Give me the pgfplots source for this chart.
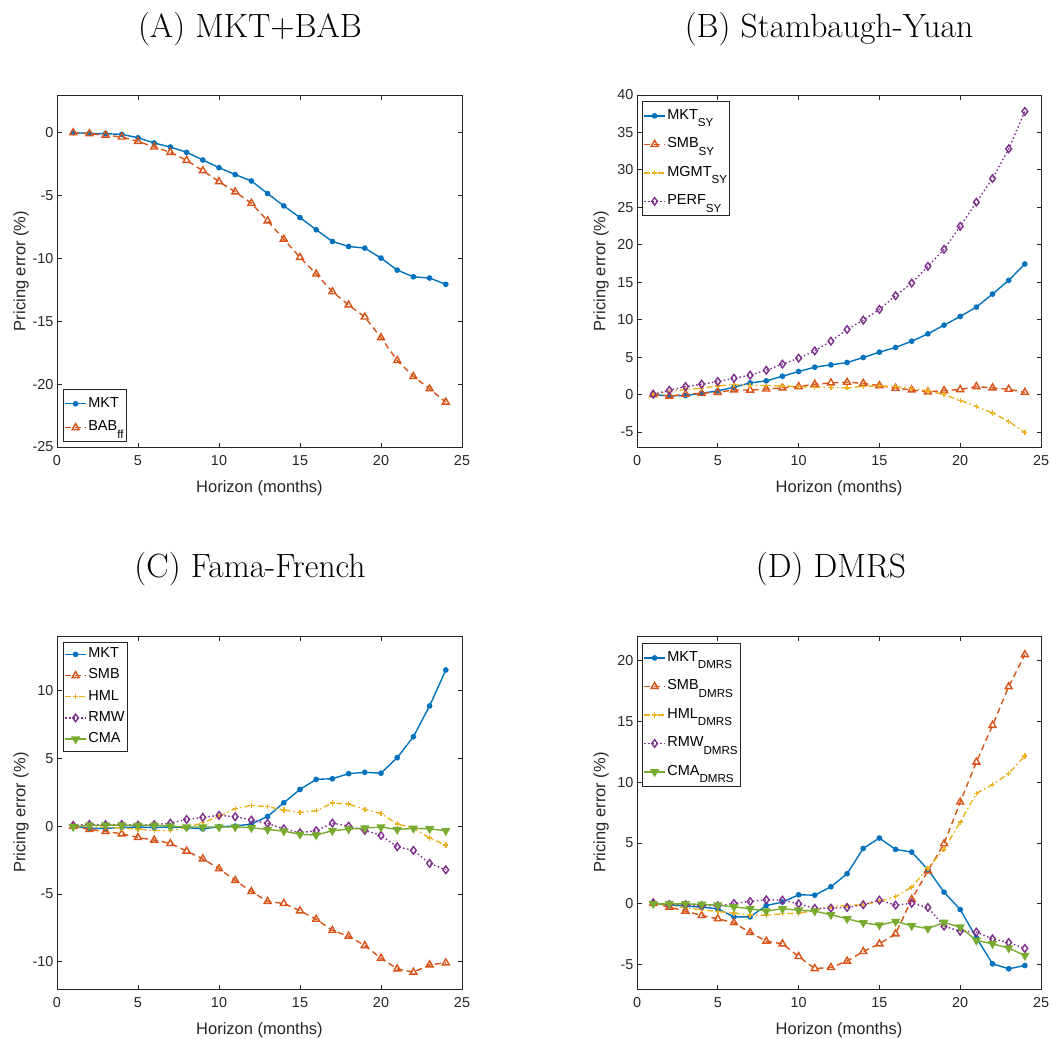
\documentclass[border=0pt]{standalone}
\usepackage{fontspec}
\usepackage{pgfplots}
\usepackage{pgfplotstable}
\pgfplotsset{compat=1.18}
\newfontfamily\arial{Liberation Sans}
\definecolor{mblue}{rgb}{0,0.447,0.741}
\definecolor{morange}{rgb}{0.85,0.325,0.098}
\definecolor{myellow}{rgb}{0.929,0.694,0.125}
\definecolor{mpurple}{rgb}{0.494,0.184,0.556}
\definecolor{mgreen}{rgb}{0.466,0.674,0.188}
\definecolor{axgray}{rgb}{0.15,0.15,0.15}
\newcommand{\sub}[1]{\raisebox{-7.5pt}[0pt][0pt]{\fontsize{11.6}{13}\selectfont #1}}

\pgfplotstableread{
x MKT BAB
1 0 0
2 -0.05 -0.08
3 -0.08 -0.19
4 -0.13 -0.34
5 -0.4 -0.69
6 -0.82 -1.14
7 -1.14 -1.56
8 -1.56 -2.2
9 -2.17 -3.02
10 -2.78 -3.89
11 -3.33 -4.71
12 -3.84 -5.61
13 -4.84 -7.01
14 -5.82 -8.47
15 -6.75 -9.92
16 -7.72 -11.24
17 -8.65 -12.65
18 -9.05 -13.7
19 -9.18 -14.66
20 -9.97 -16.3
21 -10.93 -18.12
22 -11.46 -19.39
23 -11.56 -20.37
24 -12.06 -21.43
}\tabA

\pgfplotstableread{
x MKT SMB MGMT PERF
1 0 0 0 0.05
2 -0.18 -0.2 0.4 0.58
3 -0.13 0.05 0.67 1.07
4 0.18 0.18 0.85 1.38
5 0.49 0.3 1.16 1.74
6 0.98 0.62 1.34 2.18
7 1.56 0.6 1.25 2.59
8 1.83 0.75 1.2 3.25
9 2.45 0.9 1.16 4.06
10 3.08 1.07 1.07 4.86
11 3.66 1.38 0.98 5.84
12 3.97 1.56 0.94 7.13
13 4.28 1.65 0.9 8.69
14 4.95 1.5 1.1 9.94
15 5.66 1.2 1.16 11.37
16 6.29 0.85 1.07 13.2
17 7.13 0.62 0.85 14.89
18 8.11 0.36 0.49 17.12
19 9.27 0.53 0.0 19.39
20 10.43 0.67 -0.76 22.47
21 11.68 1.07 -1.6 25.68
22 13.42 0.9 -2.45 28.85
23 15.25 0.71 -3.57 32.81
24 17.43 0.3 -5.08 37.81
}\tabB

\pgfplotstableread{
x MKT SMB HML RMW CMA
1 0 0 0 0.05 -0.05
2 -0.17 -0.25 -0.05 0.12 0.05
3 -0.17 -0.39 -0.07 0.1 0.07
4 -0.1 -0.57 -0.15 0.12 0.07
5 -0.07 -0.84 -0.22 0.07 0.05
6 -0.1 -1.03 -0.32 0.1 0.05
7 -0.07 -1.28 -0.34 0.22 0
8 -0.12 -1.84 -0.1 0.49 -0.07
9 -0.2 -2.41 0.25 0.64 -0.07
10 -0.05 -3.14 0.71 0.79 -0.07
11 0 -4.0 1.28 0.69 -0.07
12 0.15 -4.82 1.52 0.44 -0.12
13 0.71 -5.55 1.43 0.2 -0.25
14 1.72 -5.7 1.18 -0.2 -0.37
15 2.7 -6.24 1.01 -0.49 -0.61
16 3.44 -6.86 1.13 -0.34 -0.66
17 3.49 -7.69 1.7 0.22 -0.34
18 3.86 -8.11 1.62 0 -0.22
19 3.96 -8.8 1.23 -0.32 -0.15
20 3.9 -9.73 0.93 -0.69 -0.07
21 5.04 -10.52 0.15 -1.52 -0.25
22 6.58 -10.76 -0.15 -1.79 -0.17
23 8.85 -10.22 -0.88 -2.75 -0.2
24 11.5 -10.07 -1.4 -3.22 -0.34
}\tabC

\pgfplotstableread{
x MKT SMB HML RMW CMA
1 0.03 0.03 0 0.08 0
2 -0.08 -0.27 -0.14 -0.05 0
3 -0.19 -0.6 -0.33 -0.08 0
4 -0.27 -0.96 -0.49 -0.16 -0.05
5 -0.41 -1.23 -0.63 -0.16 -0.11
6 -1.07 -1.56 -0.77 0.03 -0.25
7 -1.07 -2.36 -0.93 0.19 -0.41
8 -0.14 -3.07 -0.93 0.33 -0.6
9 0.14 -3.29 -0.82 0.3 -0.41
10 0.74 -4.33 -0.77 0 -0.52
11 0.71 -5.32 -0.55 -0.38 -0.6
12 1.4 -5.23 -0.22 -0.36 -0.9
13 2.47 -4.71 -0.14 -0.3 -1.23
14 4.55 -3.92 -0.08 -0.08 -1.56
15 5.4 -3.29 0.22 0.3 -1.75
16 4.47 -2.47 0.58 -0.11 -1.45
17 4.25 0.36 1.37 0.05 -1.81
18 2.82 2.71 2.93 -0.3 -2.03
19 0.96 4.93 4.47 -1.84 -1.53
20 -0.47 8.36 6.71 -2.25 -1.92
21 -2.79 11.64 9.07 -2.33 -3.01
22 -4.93 14.66 9.78 -2.88 -3.29
23 -5.34 17.84 10.71 -3.18 -3.64
24 -5.07 20.47 12.14 -3.67 -4.25
}\tabD

\pgfplotsset{
  mat/.style={
    scale only axis,
    xmin=0, xmax=25, xtick={0,5,...,25},
    tick align=inside, major tick length=4.5pt,
    axis line style={axgray, line width=0.8pt},
    every tick/.style={axgray, line width=0.8pt},
    tick label style={font=\arial\fontsize{14.4}{16}\selectfont, text=axgray},
    /pgf/number format/assume math mode=true,
    xticklabel shift=5pt,
    label style={font=\arial\fontsize{16.5}{19}\selectfont, text=axgray},
    xlabel={Horizon (months)}, ylabel={Pricing error (\%)},
    xlabel style={at={(axis description cs:0.5,0)}, anchor=base, yshift=-45pt},
    ylabel style={at={(axis description cs:-0.078,0.5)}, anchor=base},
    legend cell align=left,
    legend style={draw=axgray, line width=0.8pt, fill=white,
      font=\arial\fontsize{14.5}{16}\selectfont, text=black,
      inner xsep=1pt, inner ysep=1.5pt, row sep=0.3pt,
      nodes={inner xsep=1.5pt, inner ysep=3.2pt, text height=10.5pt, text depth=4pt}},
    legend image code/.code={\draw[mark repeat=2,mark phase=2,##1] plot coordinates {(0pt,0pt) (10.5pt,0pt) (21pt,0pt)};},
  },
  lgbig/.style={legend style={row sep=7.6pt, inner ysep=4pt}},
  lgA/.style={legend style={row sep=3pt, inner ysep=3.5pt}},
  sMKT/.style={mblue, line width=1.4pt, solid, mark=*, mark size=2.1pt, mark options={solid}},
  sSMB/.style={morange, line width=1.4pt, dash pattern=on 6pt off 4pt, mark=triangle, mark size=4pt, mark options={solid}},
  sHML/.style={myellow, line width=1.4pt, dash pattern=on 6pt off 3pt on 1.5pt off 3pt, mark=+, mark size=2.6pt, mark options={solid}},
  sRMW/.style={mpurple, line width=1.4pt, dash pattern=on 1.5pt off 2.5pt, mark=diamond, mark size=3.8pt, mark options={solid}},
  sCMA/.style={mgreen, line width=1.4pt, solid, mark=triangle*, mark size=4pt, mark options={solid, rotate=180}},
}

\begin{document}
\begin{tikzpicture}
\path[use as bounding box] (0,0) rectangle (1051pt,-1038pt);

\node[anchor=base, font=\fontsize{33.6}{38}\selectfont] at (250pt,-37.7pt) {(A) MKT+BAB};
\node[anchor=base, font=\fontsize{33.6}{38}\selectfont] at (829pt,-37.7pt) {(B) Stambaugh-Yuan};
\node[anchor=base, font=\fontsize{33.6}{38}\selectfont] at (250pt,-577pt) {(C) Fama-French};
\node[anchor=base, font=\fontsize{33.6}{38}\selectfont] at (831pt,-577pt) {(D) DMRS};

% Panel A
\begin{axis}[mat, lgA, at={(57pt,-447pt)}, anchor=south west, width=405pt, height=352pt,
  ymin=-25, ymax=3, ytick={-25,-20,...,0},
  legend style={at={(axis description cs:0.0148,0.0142)}, anchor=south west}]
\addplot[sMKT] table[x=x,y=MKT]{\tabA};
\addplot[sSMB] table[x=x,y=BAB]{\tabA};
\legend{MKT, BAB\sub{ff}}
\end{axis}

% Panel B
\begin{axis}[mat, lgbig, at={(637pt,-447pt)}, anchor=south west, width=404pt, height=352pt,
  ymin=-7, ymax=40, ytick={-5,0,...,40},
  legend style={at={(axis description cs:0.0124,0.983)}, anchor=north west}]
\addplot[sMKT] table[x=x,y=MKT]{\tabB};
\addplot[sSMB] table[x=x,y=SMB]{\tabB};
\addplot[sHML] table[x=x,y=MGMT]{\tabB};
\addplot[sRMW] table[x=x,y=PERF]{\tabB};
\legend{MKT\sub{SY}, SMB\sub{SY}, MGMT\sub{SY}, PERF\sub{SY}}
\end{axis}

% Panel C
\begin{axis}[mat, at={(57pt,-989pt)}, anchor=south west, width=405pt, height=353pt,
  ymin=-12, ymax=14, ytick={-10,-5,...,10},
  legend style={at={(axis description cs:0.0148,0.983)}, anchor=north west}]
\addplot[sMKT] table[x=x,y=MKT]{\tabC};
\addplot[sSMB] table[x=x,y=SMB]{\tabC};
\addplot[sHML] table[x=x,y=HML]{\tabC};
\addplot[sRMW] table[x=x,y=RMW]{\tabC};
\addplot[sCMA] table[x=x,y=CMA]{\tabC};
\legend{MKT, SMB, HML, RMW, CMA}
\end{axis}

% Panel D
\begin{axis}[mat, lgbig, at={(637pt,-989pt)}, anchor=south west, width=404pt, height=353pt,
  ymin=-7, ymax=22, ytick={-5,0,...,20},
  legend style={at={(axis description cs:0.0124,0.980)}, anchor=north west}]
\addplot[sMKT] table[x=x,y=MKT]{\tabD};
\addplot[sSMB] table[x=x,y=SMB]{\tabD};
\addplot[sHML] table[x=x,y=HML]{\tabD};
\addplot[sRMW] table[x=x,y=RMW]{\tabD};
\addplot[sCMA] table[x=x,y=CMA]{\tabD};
\legend{MKT\sub{DMRS}, SMB\sub{DMRS}, HML\sub{DMRS}, RMW\sub{DMRS}, CMA\sub{DMRS}}
\end{axis}
\end{tikzpicture}
\end{document}
